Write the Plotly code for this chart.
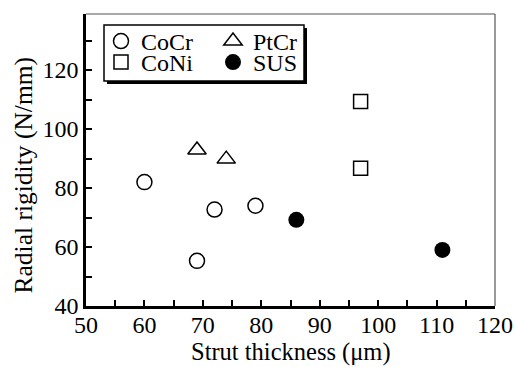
import plotly.graph_objects as go

# Data
cocr_x = [60, 69, 72, 79]
cocr_y = [82, 55.3, 72.7, 74]
ptcr_x = [69, 74]
ptcr_y = [92.9, 89.8]
coni_x = [97, 97]
coni_y = [109.3, 86.7]
sus_x = [86, 111]
sus_y = [69.2, 59]

FONT = "Times New Roman, Liberation Serif, serif"

fig = go.Figure()
fig.add_trace(go.Scatter(x=cocr_x, y=cocr_y, mode="markers", name="CoCr", legend="legend",
                         marker=dict(symbol="circle-open", size=15, color="black", line=dict(width=1.5))))
fig.add_trace(go.Scatter(x=ptcr_x, y=ptcr_y, mode="markers", name="PtCr", legend="legend",
                         marker=dict(symbol="triangle-up-open", size=16, color="black", line=dict(width=1.5))))
fig.add_trace(go.Scatter(x=coni_x, y=coni_y, mode="markers", name="CoNi", legend="legend2",
                         marker=dict(symbol="square-open", size=14, color="black", line=dict(width=1.5))))
fig.add_trace(go.Scatter(x=sus_x, y=sus_y, mode="markers", name="SUS", legend="legend2",
                         marker=dict(symbol="circle", size=16, color="black")))

W, H = 515, 367
L, R, T, B = 86, 20, 14, 61
pw, ph = W - L - R, H - T - B

def px2paper_x(px):
    return (px - L) / pw

def px2paper_y(py):
    return 1 - (py - T) / ph

# legend shadow and box
fig.add_shape(type="rect", xref="paper", yref="paper",
              x0=px2paper_x(107), x1=px2paper_x(307), y0=px2paper_y(84), y1=px2paper_y(28),
              fillcolor="black", line=dict(width=0), layer="above")
fig.add_shape(type="rect", xref="paper", yref="paper",
              x0=px2paper_x(104), x1=px2paper_x(304), y0=px2paper_y(81), y1=px2paper_y(25),
              fillcolor="white", line=dict(width=1.5, color="black"), layer="above")
# top and right thin frame
fig.add_shape(type="line", xref="paper", yref="paper", x0=0, x1=1, y0=1, y1=1,
              line=dict(color="#555", width=1.2))
fig.add_shape(type="line", xref="paper", yref="paper", x0=1, x1=1, y0=0, y1=1,
              line=dict(color="#555", width=1.2))

# y-axis title (placed as in the reference, slightly below the plot centre)
fig.add_annotation(text="Radial rigidity (N/mm)", xref="paper", yref="paper",
                   x=px2paper_x(23), y=px2paper_y(175.5), xanchor="center", yanchor="middle",
                   textangle=-90, showarrow=False,
                   font=dict(family=FONT, size=25.5, color="black"))

# x-axis title
fig.add_annotation(text="Strut thickness (μm)", xref="paper", yref="paper",
                   x=0.5, y=px2paper_y(367), xanchor="center", yanchor="bottom",
                   showarrow=False, borderpad=0,
                   font=dict(family=FONT, size=24.5, color="black"))

leg_common = dict(orientation="h", xanchor="left", yanchor="top",
                  bgcolor="rgba(0,0,0,0)", borderwidth=0,
                  entrywidth=67, entrywidthmode="pixels",
                  font=dict(family=FONT, size=24, color="black"))

fig.update_layout(
    width=W, height=H,
    margin=dict(l=L, r=R, t=T, b=B, autoexpand=False),
    plot_bgcolor="white", paper_bgcolor="white",
    font=dict(family=FONT, size=24, color="black"),
    showlegend=True,
    legend=dict(x=px2paper_x(101), y=px2paper_y(19), **leg_common),
    legend2=dict(x=px2paper_x(101), y=px2paper_y(40), **leg_common),
    xaxis=dict(range=[50, 120], dtick=10, tick0=50, showgrid=False, zeroline=False,
               automargin=False,
               showline=True, linecolor="black", linewidth=2.5,
               ticks="inside", ticklen=6, tickwidth=1.5, tickcolor="black",
               ticklabelstandoff=-5,
               tickfont=dict(family=FONT, size=24, color="black"),
               minor=dict(dtick=5, tick0=50, ticks="inside", ticklen=6, tickwidth=1.5, tickcolor="black")),
    yaxis=dict(range=[40, 139], dtick=20, tick0=40, showgrid=False, zeroline=False,
               automargin=False,
               showline=True, linecolor="black", linewidth=2.5,
               ticks="inside", ticklen=6, tickwidth=1.5, tickcolor="black",
               tickfont=dict(family=FONT, size=24, color="black"),
               minor=dict(dtick=10, tick0=40, ticks="inside", ticklen=6, tickwidth=1.5, tickcolor="black")),
)

fig.write_html("out.html")
